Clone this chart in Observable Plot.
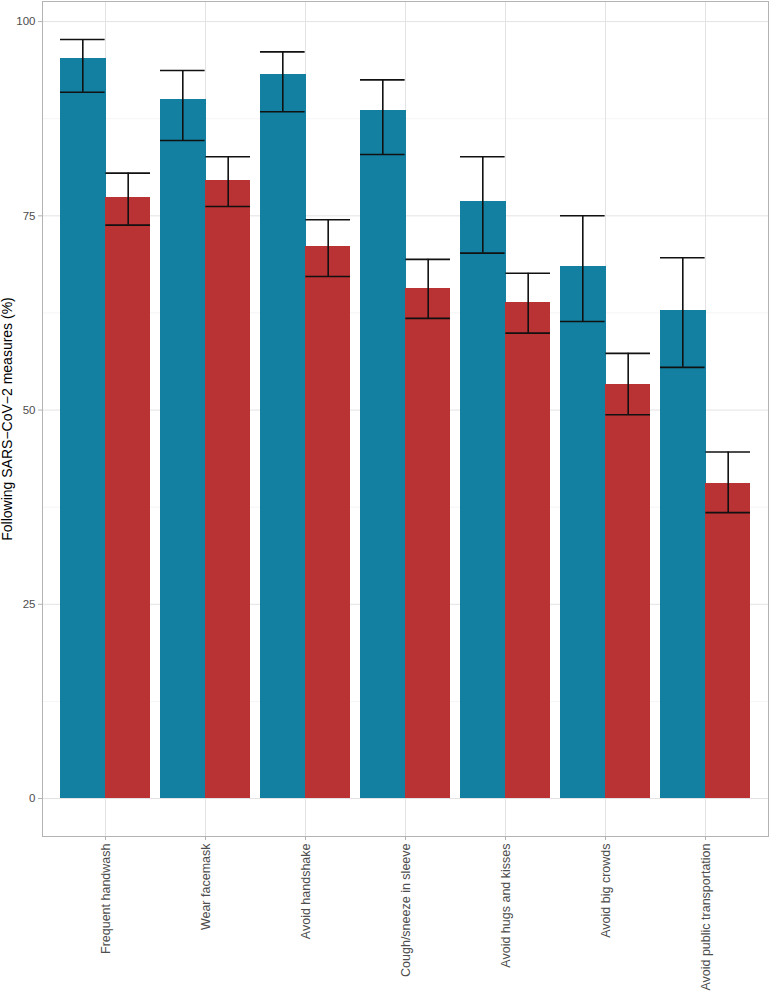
<!DOCTYPE html>
<html>
<head>
<meta charset="utf-8">
<script src="https://cdn.jsdelivr.net/npm/d3@7"></script>
<script src="https://cdn.jsdelivr.net/npm/@observablehq/plot@0.6"></script>
<style>
  html, body { margin: 0; padding: 0; background: #fff; }
  #chart svg { display: block; }
</style>
</head>
<body>
<div id="chart"></div>
<script>
const categories = ["Frequent handwash", "Wear facemask", "Avoid handshake", "Cough/sneeze in sleeve", "Avoid hugs and kisses", "Avoid big crowds", "Avoid public transportation"];
const seriesNames = ["Group A", "Group B"];
const blueValues = [95.2, 90.0, 93.2, 88.5, 76.9, 68.5, 62.8];
const blueLow    = [90.9, 84.7, 88.4, 82.9, 70.2, 61.4, 55.5];
const blueHigh   = [97.7, 93.7, 96.1, 92.5, 82.6, 75.0, 69.6];
const redValues  = [77.4, 79.6, 71.0, 65.7, 63.8, 53.3, 40.6];
const redLow     = [73.8, 76.2, 67.2, 61.8, 59.9, 49.4, 36.8];
const redHigh    = [80.5, 82.6, 74.5, 69.4, 67.6, 57.3, 44.6];
const yTicks = [0, 25, 50, 75, 100];
const yMinor = [12.5, 37.5, 62.5, 87.5];
const yTitle = "Following SARS\u2212CoV\u22122 measures (%)";

const colors = ["#1380A1", "#B93234"];

const W = 770, H = 993, mL = 42, mR = 2, mT = 1, mB = 157;
const step = (W - mL - mR) / (categories.length + 0.2);
const half = step * 0.9 / 2;

const rowsA = categories.map((c, i) => ({cat: c, grp: seriesNames[0], v: blueValues[i], lo: blueLow[i], hi: blueHigh[i]}));
const rowsB = categories.map((c, i) => ({cat: c, grp: seriesNames[1], v: redValues[i], lo: redLow[i], hi: redHigh[i]}));

const yMax = d3.max([...blueHigh, ...redHigh]);
const yMin = 0;
const pad = (yMax - yMin) * 0.05;

const font = "'Liberation Sans', Arial, Helvetica, sans-serif";

const chart = Plot.plot({
  width: W,
  height: H,
  marginLeft: mL,
  marginRight: mR,
  marginTop: mT,
  marginBottom: mB,
  style: {fontFamily: font, fontSize: "11px", background: "#fff"},
  x: {type: "band", domain: categories, paddingInner: 0.1, paddingOuter: 0.15, axis: null},
  y: {domain: [yMin - pad, yMax + pad], axis: null},
  marks: [
    Plot.ruleY(yMinor, {stroke: "#F0F0F0", strokeWidth: 0.7}),
    Plot.ruleY(yTicks, {stroke: "#E3E3E3", strokeWidth: 1}),
    Plot.ruleX(categories, {x: d => d, stroke: "#E3E3E3", strokeWidth: 1}),
    Plot.barY(rowsA, {x: "cat", y1: 0, y2: "v", fill: colors[0], insetRight: half - 1, shapeRendering: "crispEdges"}),
    Plot.barY(rowsB, {x: "cat", y1: 0, y2: "v", fill: colors[1], insetLeft: half, shapeRendering: "crispEdges"}),
    Plot.ruleX(rowsA, {x: "cat", y1: "lo", y2: "hi", dx: -half / 2, stroke: "#111", strokeWidth: 1.6}),
    Plot.ruleX(rowsB, {x: "cat", y1: "lo", y2: "hi", dx: half / 2, stroke: "#111", strokeWidth: 1.6}),
    Plot.tickY(rowsA, {x: "cat", y: "lo", insetRight: half, stroke: "#111", strokeWidth: 1.6}),
    Plot.tickY(rowsA, {x: "cat", y: "hi", insetRight: half, stroke: "#111", strokeWidth: 1.6}),
    Plot.tickY(rowsB, {x: "cat", y: "lo", insetLeft: half, stroke: "#111", strokeWidth: 1.6}),
    Plot.tickY(rowsB, {x: "cat", y: "hi", insetLeft: half, stroke: "#111", strokeWidth: 1.6}),
    Plot.frame({stroke: "#B3B3B3", strokeWidth: 1}),
    Plot.axisY(yTicks, {tickSize: 4, tickPadding: 3, stroke: "#B3B3B3", fill: "#4D4D4D", fontSize: 11.5, label: null}),
    Plot.axisX({tickRotate: -90, tickSize: 4, tickPadding: 3, stroke: "#B3B3B3", fill: "#4D4D4D", fontSize: 12.5, label: null}),
    Plot.text([yTitle], {frameAnchor: "left", dx: -34.5, rotate: -90, text: d => d, fill: "#000", fontSize: 14, textAnchor: "middle", lineAnchor: "middle"})
  ]
});
document.getElementById("chart").appendChild(chart);
</script>
</body>
</html>
